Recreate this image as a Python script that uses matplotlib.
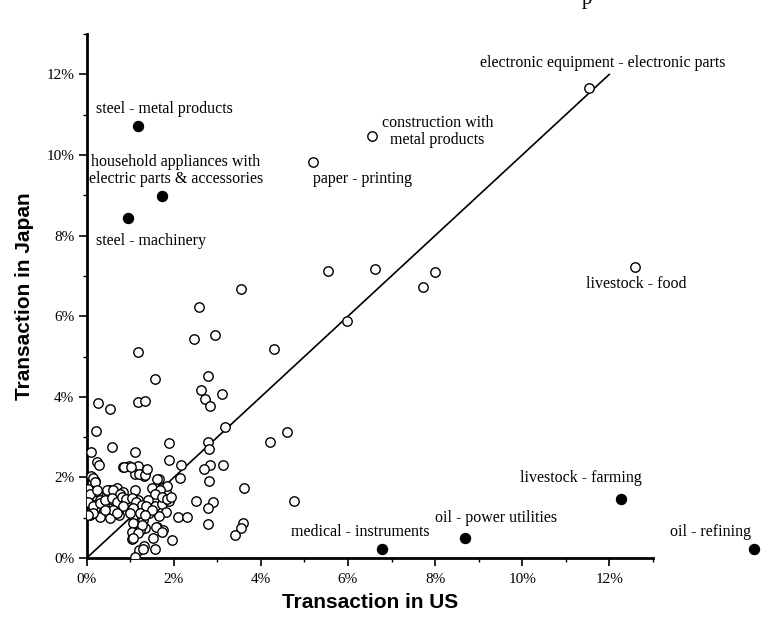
"""
Transaction share: US vs Japan scatter with labelled outliers
"""
import numpy as np
import matplotlib
matplotlib.use("Agg")
import matplotlib.pyplot as plt
from matplotlib.ticker import MultipleLocator, FuncFormatter

# open circles (x = US %, y = Japan %)
open_pts = [
    (11.54, 11.67), (6.56, 10.48), (5.19, 9.82), (12.6, 7.23), (5.54, 7.13),
    (6.62, 7.17), (7.99, 7.10), (7.72, 6.73), (3.55, 6.67), (5.98, 5.88),
    (2.59, 6.23), (2.47, 5.43), (2.95, 5.53), (1.17, 5.11), (4.29, 5.19),
    (1.56, 4.43), (2.78, 4.52), (2.62, 4.18), (3.10, 4.07), (2.71, 3.95),
    (2.82, 3.76), (0.25, 3.85), (0.54, 3.71), (1.18, 3.86), (1.33, 3.89),
    (0.21, 3.16), (3.17, 3.26), (4.60, 3.12), (4.22, 2.89), (0.10, 2.62),
    (0.58, 2.75), (1.10, 2.63), (1.88, 2.85), (2.79, 2.89), (2.80, 2.70),
    (0.23, 2.38), (0.29, 2.32), (1.88, 2.42), (2.16, 2.31), (0.83, 2.27),
    (0.97, 2.28), (1.17, 2.29), (2.82, 2.32), (3.12, 2.32), (2.69, 2.21),
    (0.11, 2.03), (0.18, 1.91), (1.11, 2.08), (1.34, 2.10), (1.32, 2.03),
    (2.14, 1.99), (2.80, 1.91), (1.65, 1.97), (1.51, 1.74), (0.02, 1.71),
    (0.27, 1.63), (0.54, 1.70), (0.69, 1.73), (1.11, 1.70), (1.72, 1.75),
    (3.62, 1.75), (1.82, 1.63), (2.51, 1.41), (2.91, 1.39), (4.77, 1.41),
    (2.78, 1.24), (2.09, 1.03), (2.30, 1.03), (2.78, 0.84), (3.59, 0.88),
    (3.54, 0.74), (3.41, 0.58), (1.95, 0.44), (1.56, 0.22), (1.05, 0.48),
    (1.32, 0.29), (1.21, 0.21), (1.10, 0.02), (1.52, 0.49), (1.62, 0.77),
    (1.75, 0.70), (1.34, 0.74),
    (0.04, 1.53), (0.09, 1.35), (0.08, 1.08), (0.18, 1.24), (0.31, 1.45),
    (0.40, 1.32), (0.46, 1.12), (0.61, 1.45), (0.73, 1.24), (0.75, 1.08),
    (0.89, 1.45), (0.99, 1.28), (1.07, 1.05), (1.17, 1.45), (1.22, 1.20),
    (1.37, 1.30), (1.43, 1.12), (1.56, 1.28), (1.74, 1.35), (1.89, 1.41),
    (1.82, 1.15), (1.66, 1.05), (1.30, 0.95), (1.14, 0.79), (1.08, 0.70),
    (1.22, 0.69), (0.31, 1.03), (0.53, 0.99), (0.14, 1.98), (0.19, 1.89),
    (0.08, 1.60), (0.23, 1.69), (0.46, 1.70), (0.61, 1.68), (0.84, 1.64),
    (0.76, 1.60), (1.62, 1.95), (1.85, 1.79), (1.68, 1.70), (1.56, 1.60),
    (1.41, 1.44), (1.72, 1.52), (0.04, 1.40), (0.15, 1.28), (0.30, 1.36),
    (0.42, 1.44), (0.57, 1.48), (0.69, 1.40), (0.80, 1.52), (0.91, 1.46),
    (1.03, 1.48), (1.14, 1.40), (1.26, 1.32), (1.37, 1.28), (1.49, 1.19),
    (1.07, 1.23), (0.84, 1.28), (0.61, 1.19), (0.42, 1.19), (0.15, 1.11),
    (0.04, 1.07), (0.69, 1.11), (0.99, 1.11), (1.22, 1.11), (1.33, 1.07),
    (1.85, 1.46), (1.94, 1.52), (1.07, 0.86), (1.26, 0.82), (1.03, 0.65),
    (1.18, 0.61), (1.07, 0.49), (1.60, 0.78), (1.72, 0.65), (1.30, 0.22),
    (1.20, 2.09), (1.35, 2.06), (0.85, 2.27), (1.01, 2.27), (1.39, 2.20),
]

# filled circles (labelled outliers)
filled_names = ["steel - metal products", "household appliances", "steel - machinery",
                "medical - instruments", "oil - power utilities", "livestock - farming",
                "oil - refining"]
filled_x = [1.18, 1.72, 0.95, 6.77, 8.68, 12.27, 15.33]
filled_y = [10.73, 8.99, 8.43, 0.22, 0.50, 1.46, 0.22]

# annotation text and where it sits (data units)
labels = [
    ("steel - metal products", 1.78, 11.14, "center"),
    ("household appliances with\nelectric parts & accessories", 2.05, 9.62, "center"),
    ("steel - machinery", 0.21, 7.87, "left"),
    ("construction with\nmetal products", 8.06, 10.58, "center"),
    ("paper - printing", 5.19, 9.40, "left"),
    ("electronic equipment - electronic parts", 14.68, 12.28, "right"),
    ("livestock - food", 12.61, 6.79, "center"),
    ("livestock - farming", 11.35, 1.99, "center"),
    ("oil - power utilities", 9.41, 0.985, "center"),
    ("medical - instruments", 7.87, 0.65, "right"),
    ("oil - refining", 14.33, 0.65, "center"),
]

serif = "Liberation Serif"
sans = "Liberation Sans"

fig = plt.figure(figsize=(7.68, 6.19), dpi=100)
ax = fig.add_axes([0.1129, 0.0985, 0.850 - 0.1129, 0.9449 - 0.0985])

ox = np.array([p[0] for p in open_pts])
oy = np.array([p[1] for p in open_pts])
ax.scatter(ox, oy, s=46, facecolors="white", edgecolors="black", linewidths=1.0, zorder=3)
ax.scatter(filled_x, filled_y, s=52, color="black", zorder=4, clip_on=False)

# 45-degree reference line
ax.plot([0, 12], [0, 12], color="black", lw=1.2, zorder=2)

for txt, x, y, ha in labels:
    ax.text(x, y, txt, ha=ha, va="center", fontsize=11.5, family=serif,
            linespacing=1.05, clip_on=False)

ax.set_xlim(0, 13)
ax.set_ylim(0, 13)
for side in ["top", "right"]:
    ax.spines[side].set_visible(False)
for side in ["left", "bottom"]:
    ax.spines[side].set_linewidth(2.0)

pct = FuncFormatter(lambda v, _: f"{v:.0f}%")
for a in (ax.xaxis, ax.yaxis):
    a.set_major_locator(MultipleLocator(2))
    a.set_minor_locator(MultipleLocator(1))
    a.set_major_formatter(pct)
ax.tick_params(which="major", length=6, width=1.2, direction="out", pad=3)
ax.tick_params(axis="x", which="major", pad=5)
ax.tick_params(which="minor", length=3, width=1.0, direction="out")
for lab in ax.get_xticklabels() + ax.get_yticklabels():
    lab.set_fontfamily(serif)
    lab.set_fontsize(11)

ax.set_xlabel("Transaction in US", fontsize=15, fontweight="bold", family=sans, labelpad=5)
ax.set_ylabel("Transaction in Japan", fontsize=15, fontweight="bold", family=sans, labelpad=9)

# clipped remnant of text above the figure
fig.text(0.757, 1 - 4 / 619, "p", fontsize=15, family=serif, va="baseline")

fig.savefig("out.png", dpi=100)
